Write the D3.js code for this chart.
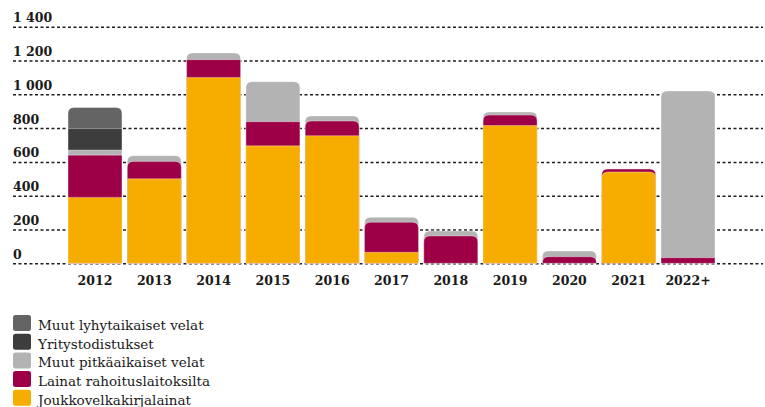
<!DOCTYPE html>
<html>
<head>
<meta charset="utf-8">
<script src="https://cdn.jsdelivr.net/npm/d3@7"></script>
<style>
  html, body { margin: 0; padding: 0; background: #fff; }
  svg { display: block; }
</style>
</head>
<body>
<svg id="chart" width="765" height="407"></svg>
<script>
// Maturity profile of debt, by year
const years = ["2012", "2013", "2014", "2015", "2016", "2017", "2018", "2019", "2020", "2021", "2022+"];
const joukkovelkakirjalainat = [390, 500, 1100, 695, 755, 65, 0, 815, 0, 540, 0];
const lainatRahoituslaitoksilta = [250, 103, 105, 143, 87, 178, 162, 62, 39, 18, 33];
const muutPitkaaikaiset = [30, 34, 40, 237, 30, 29, 29, 18, 34, 0, 987];
const yritystodistukset = [127, 0, 0, 0, 0, 0, 0, 0, 0, 0, 0];
const muutLyhytaikaiset = [125, 0, 0, 0, 0, 0, 0, 0, 0, 0, 0];
const yTicks = [0, 200, 400, 600, 800, 1000, 1200, 1400];

const series = [
  { key: "jvk", name: "Joukkovelkakirjalainat", color: "#F7AC00", values: joukkovelkakirjalainat },
  { key: "lrl", name: "Lainat rahoituslaitoksilta", color: "#9E0047", values: lainatRahoituslaitoksilta },
  { key: "mpv", name: "Muut pitkäaikaiset velat", color: "#B3B3B3", values: muutPitkaaikaiset },
  { key: "yt", name: "Yritystodistukset", color: "#3D3D3D", values: yritystodistukset },
  { key: "mlv", name: "Muut lyhytaikaiset velat", color: "#646464", values: muutLyhytaikaiset }
];

const rows = years.map((yr, i) => {
  const r = { year: yr };
  series.forEach(s => { r[s.key] = s.values[i]; });
  return r;
});

const svg = d3.select("#chart");

const x = d3.scaleBand().domain(years).range([65.35, 717.65]).paddingInner(0.09).paddingOuter(0.045);
const y = d3.scaleLinear().domain([0, 1400]).range([263.3, 26.7]);

const fmt = d3.formatLocale({ decimal: ",", thousands: " ", grouping: [3], currency: ["", "€"] }).format(",d");

// Dotted gridlines with value labels sitting on top of them
const yAxis = d3.axisRight(y).tickValues(yTicks).tickSize(750).tickFormat(fmt);
const gy = svg.append("g").attr("transform", "translate(13,0)").call(yAxis);
gy.select(".domain").remove();
gy.selectAll(".tick line")
  .attr("stroke", "#1e1e1e")
  .attr("stroke-width", 1.5)
  .attr("stroke-dasharray", "3,2.5");
gy.selectAll(".tick text")
  .attr("x", 0).attr("y", -5).attr("dy", 0)
  .attr("text-anchor", "start")
  .attr("fill", "#1a1a1a")
  .style("font-family", "'DejaVu Serif', serif")
  .style("font-weight", "bold")
  .style("font-size", "12.5px");

// Stacked bars
const stack = d3.stack().keys(series.map(s => s.key));
const stacked = stack(rows);
const R = 6;

function barPath(x0, w, yTop, yBase, r) {
  const h = yBase - yTop;
  if (r <= 0 || h <= 0) return `M${x0},${yBase}V${yTop}H${x0 + w}V${yBase}Z`;
  const rr = Math.min(r, h, w / 2);
  return `M${x0},${yBase}V${yTop + rr}Q${x0},${yTop} ${x0 + rr},${yTop}` +
         `H${x0 + w - rr}Q${x0 + w},${yTop} ${x0 + w},${yTop + rr}V${yBase}Z`;
}

const bars = svg.append("g");
years.forEach((yr, i) => {
  const total = stacked[stacked.length - 1][i][1];
  const yTotal = y(total);
  // draw from the top layer down so that lower layers sit in front
  for (let k = stacked.length - 1; k >= 0; k--) {
    const d = stacked[k][i];
    if (d[1] - d[0] <= 0) continue;
    const yTop = y(d[1]);
    const rounded = (yTop - yTotal) < R;
    bars.append("path")
      .attr("d", barPath(x(yr), x.bandwidth(), yTop, y(0), rounded ? R : 0))
      .attr("fill", series[k].color)
      .attr("stroke", "rgba(255,255,255,0.35)")
      .attr("stroke-width", 1);
  }
});

// Year labels
const xAxis = d3.axisBottom(x).tickSize(0).tickPadding(0);
const gx = svg.append("g").attr("transform", `translate(0,${y(0)})`).call(xAxis);
gx.select(".domain").remove();
gx.selectAll(".tick text")
  .attr("y", 22).attr("dy", 0)
  .attr("fill", "#1a1a1a")
  .style("font-family", "'DejaVu Serif', serif")
  .style("font-weight", "bold")
  .style("font-size", "12.5px");

// Legend, top entry first
const legendItems = series.slice().reverse();
const lg = svg.append("g").attr("transform", "translate(13,315)");
const li = lg.selectAll("g").data(legendItems).join("g")
  .attr("transform", (d, i) => `translate(0,${i * 18.7})`);
li.append("rect")
  .attr("width", 18).attr("height", 16).attr("rx", 2.5)
  .attr("fill", d => d.color);
li.append("text")
  .attr("x", 25).attr("y", 15)
  .attr("fill", "#1a1a1a")
  .style("font-family", "'DejaVu Serif', serif")
  .style("font-size", "13.5px")
  .text(d => d.name);
</script>
</body>
</html>
